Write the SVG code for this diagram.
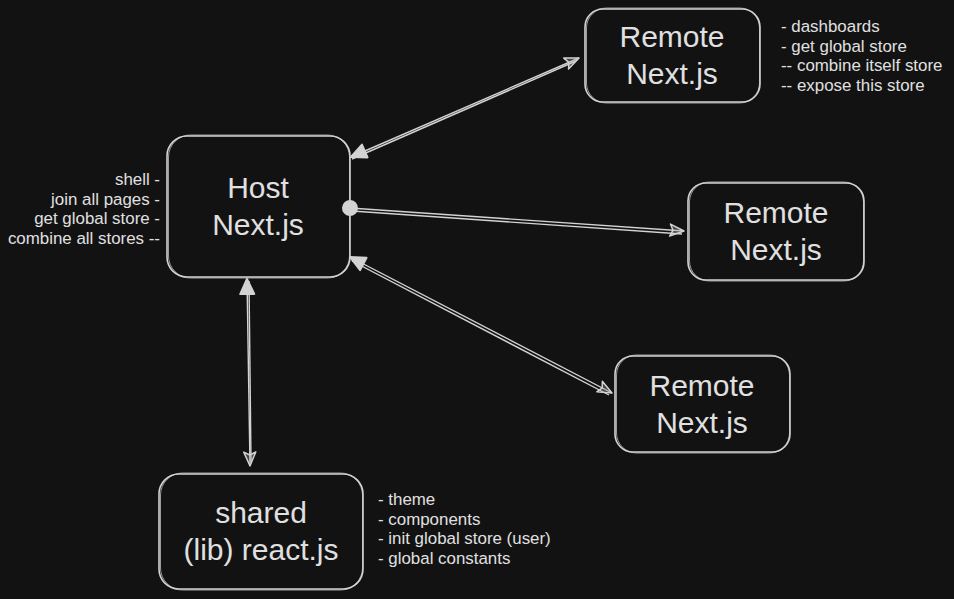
<svg xmlns="http://www.w3.org/2000/svg" width="954" height="599" viewBox="0 0 954 599">
<style>
.box{fill:none;stroke:#d3d3d3;stroke-width:1.6}
.box2{fill:none;stroke:#d3d3d3;stroke-width:0.9;opacity:0.8}
.lbl{font-family:"Liberation Sans",Arial,sans-serif;font-size:30px;fill:#e0e0e0;text-anchor:middle}
.note{font-family:"Liberation Sans",Arial,sans-serif;font-size:16.9px;fill:#e0e0e0}
.ln{fill:none;stroke:#d3d3d3;stroke-width:1.4}
</style>
<defs>
<marker id="head" markerUnits="userSpaceOnUse" markerWidth="20" markerHeight="20" refX="15" refY="7" orient="auto" overflow="visible">
<path d="M1,1 L15,7 L1,13 L4,7 Z" fill="#b0b0b0" fill-opacity="0.35" stroke="#d3d3d3" stroke-width="1.5" stroke-linejoin="round"/>
</marker>
<marker id="tail" markerUnits="userSpaceOnUse" markerWidth="20" markerHeight="20" refX="15" refY="8" orient="auto-start-reverse" overflow="visible">
<path d="M0,1 L15,8 L0,15 Z" fill="#d3d3d3" stroke="#d3d3d3" stroke-width="2" stroke-linejoin="round"/>
</marker>
<marker id="dot" markerUnits="userSpaceOnUse" markerWidth="20" markerHeight="20" refX="8" refY="8" orient="auto" overflow="visible">
<circle cx="8" cy="8" r="8" fill="#d3d3d3"/>
</marker>
</defs>
<rect width="954" height="599" fill="#121212"/>

<g id="connectors">
<path class="ln" d="M351,157 L579,58" marker-start="url(#tail)" marker-end="url(#head)"/>
<path class="ln" d="M352,159 L576,61"/>
<path class="ln" d="M350,208 L684,231" marker-start="url(#dot)" marker-end="url(#head)"/>
<path class="ln" d="M352,211 L682,234"/>
<path class="ln" d="M350,257 L612,393" marker-start="url(#tail)" marker-end="url(#head)"/>
<path class="ln" d="M352,261 L609,395"/>
<path class="ln" d="M247,279 L250,466" marker-start="url(#tail)" marker-end="url(#head)"/>
<path class="ln" d="M249,281 L251,462"/>
</g>

<g id="remote1">
<rect class="box" x="585" y="9" width="175" height="93" rx="18"/>
<rect class="box2" x="586.5" y="8" width="173" height="95" rx="20"/>
<text class="lbl" x="672" y="47">Remote</text>
<text class="lbl" x="672" y="84">Next.js</text>
</g>

<g id="remote1-notes">
<text class="note" x="781" y="32">- dashboards</text>
<text class="note" x="781" y="52">- get global store</text>
<text class="note" x="781" y="71">-- combine itself store</text>
<text class="note" x="781" y="91">-- expose this store</text>
</g>

<g id="host">
<rect class="box" x="167" y="136" width="183" height="141" rx="20"/>
<rect class="box2" x="168.5" y="135" width="181" height="143" rx="22"/>
<text class="lbl" x="258" y="198">Host</text>
<text class="lbl" x="258" y="235">Next.js</text>
</g>

<g id="host-notes">
<text class="note" x="160" y="185" text-anchor="end">shell -</text>
<text class="note" x="160" y="205" text-anchor="end">join all pages -</text>
<text class="note" x="160" y="224" text-anchor="end">get global store -</text>
<text class="note" x="160" y="244" text-anchor="end">combine all stores --</text>
</g>

<g id="remote2">
<rect class="box" x="688" y="183" width="176" height="97" rx="18"/>
<rect class="box2" x="689.5" y="182" width="174" height="99" rx="20"/>
<text class="lbl" x="776" y="223">Remote</text>
<text class="lbl" x="776" y="260">Next.js</text>
</g>

<g id="remote3">
<rect class="box" x="615" y="356" width="175" height="96" rx="18"/>
<rect class="box2" x="616.5" y="355" width="173" height="98" rx="20"/>
<text class="lbl" x="702" y="396">Remote</text>
<text class="lbl" x="702" y="433">Next.js</text>
</g>

<g id="shared">
<rect class="box" x="159" y="474" width="204" height="115" rx="20"/>
<rect class="box2" x="160.5" y="473" width="202" height="117" rx="22"/>
<text class="lbl" x="261" y="523">shared</text>
<text class="lbl" x="261" y="560">(lib) react.js</text>
</g>

<g id="shared-notes">
<text class="note" x="378" y="505">- theme</text>
<text class="note" x="378" y="525">- components</text>
<text class="note" x="378" y="544">- init global store (user)</text>
<text class="note" x="378" y="564">- global constants</text>
</g>
</svg>
